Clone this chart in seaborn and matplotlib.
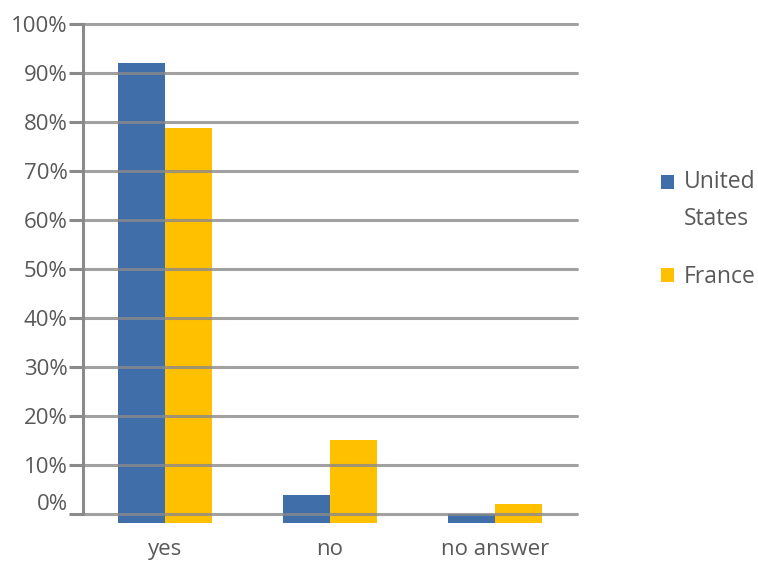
import matplotlib
matplotlib.use("Agg")
import matplotlib.pyplot as plt
import matplotlib.transforms as mtransforms
import seaborn as sns
import pandas as pd
from matplotlib.patches import Patch

# Survey answers by country (share of respondents, %)
answers = ["yes", "no", "no answer"]
countries = ["United States", "France"]
legend_labels = ["United\nStates", "France"]
us_share = [92.0, 3.7, 0.0]
france_share = [78.8, 15.1, 1.9]
y_ticks = [0, 10, 20, 30, 40, 50, 60, 70, 80, 90, 100]
y_tick_labels = ["0%", "10%", "20%", "30%", "40%", "50%", "60%", "70%", "80%", "90%", "100%"]

palette = {"United States": "#3F6EA9", "France": "#FFC000"}
GRID = "#8a8a8a"
TEXT = "#595959"
BASELINE = -2.0  # bars hang a little below the zero line

df = pd.DataFrame({
    "answer": answers * 2,
    "country": [countries[0]] * len(answers) + [countries[1]] * len(answers),
    "share": us_share + france_share,
})

sns.set_theme(style="white")
plt.rcParams["font.family"] = ["Open Sans", "DejaVu Sans"]

fig = plt.figure(figsize=(7.58, 5.63), dpi=100)
ax = fig.add_axes([83 / 758, 1 - 523.3 / 563, (577 - 83) / 758, (523.3 - 24) / 563])

sns.barplot(data=df, x="answer", y="share", hue="country", order=answers,
            hue_order=countries, palette=palette, width=0.57, gap=0,
            saturation=1, errorbar=None, legend=False, linewidth=0, ax=ax)

# extend every bar down to the common baseline below zero
for p in ax.patches:
    top = p.get_y() + p.get_height()
    p.set_y(BASELINE)
    p.set_height(top - BASELINE)
    p.set_zorder(1)

ax.set_ylim(BASELINE, 100)
ax.set_xlim(-0.5, 2.5)
ax.set_yticks(y_ticks)
ax.set_yticklabels(y_tick_labels)
ax.set_xlabel("")
ax.set_ylabel("")

# horizontal gridlines drawn over the bars
for t in y_ticks:
    ax.axhline(t, color=GRID, lw=2.2, alpha=0.8, zorder=3, clip_on=False)

for side in ["top", "right", "bottom"]:
    ax.spines[side].set_visible(False)
ax.spines["left"].set_bounds(0, 100)
ax.spines["left"].set_color(GRID)
ax.spines["left"].set_linewidth(2.2)
ax.spines["left"].set_zorder(3)

ax.tick_params(axis="y", left=True, length=10, width=2.2, color=GRID,
               direction="out", pad=1, labelsize=16, labelcolor=TEXT)
ax.tick_params(axis="x", bottom=False, length=0, pad=11.5, labelsize=16,
               labelcolor=TEXT)

# the zero label sits a little above its line
zero_label = ax.get_yticklabels()[0]
zero_label.set_transform(zero_label.get_transform() +
                         mtransforms.ScaledTranslation(0, 12 / 100, fig.dpi_scale_trans))

handles = [Patch(facecolor=palette[c], edgecolor="none") for c in countries]
leg = fig.legend(handles, legend_labels, loc="upper left",
                 bbox_to_anchor=(661 / 758, 1 - 170 / 563), frameon=False,
                 borderpad=0, borderaxespad=0,
                 handlelength=0.55, handleheight=0.55, handletextpad=0.45,
                 labelspacing=1.5, fontsize=16.5, labelcolor=TEXT)
for t in leg.get_texts():
    t.set_linespacing(1.7)
# square of the two-line entry lines up with its first line
first = leg.legend_handles[0]
first.set_y(first.get_y() + 14)

fig.savefig("out.png", dpi=100)
